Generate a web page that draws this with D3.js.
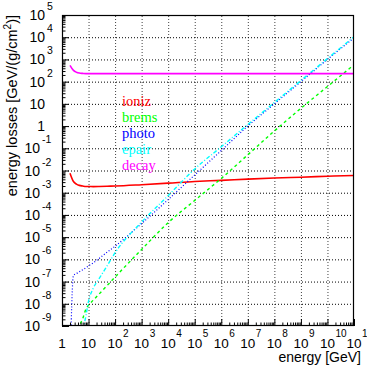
<!DOCTYPE html>
<html>
<head>
<meta charset="utf-8">
<script src="https://cdn.jsdelivr.net/npm/d3@7"></script>
<style>
  html, body { margin: 0; padding: 0; background: #fff; }
  svg { display: block; }
  text { font-family: "Liberation Sans", Arial, sans-serif; fill: #000; }
</style>
</head>
<body>
<svg id="chart" width="367" height="369"></svg>
<script>
// ---- data ----
const energies = [2, 2.7, 3.5, 4.5, 6, 8, 10, 15, 25, 50, 100, 1e3, 1e4, 1e5, 1e6, 1e7, 1e8, 1e9, 1e10, 1e11];
const ioniz = [7.6e-3, 3.2e-3, 2.45e-3, 2.14e-3, 2.0e-3, 1.9e-3, 1.9e-3, 1.88e-3, 1.9e-3, 1.95e-3, 2.0e-3, 2.3e-3, 2.7e-3, 3.2e-3, 3.6e-3, 4.1e-3, 4.6e-3, 5.0e-3, 5.5e-3, 6.0e-3];
const brems = [1e-14, 1e-13, 1e-12, 8e-10, 2.1e-9, 5.8e-9, 8.7e-9, 1.45e-8, 2.75e-8, 6.6e-8, 1.6e-7, 2.8e-6, 4.5e-5, 4.5e-4, 4.4e-3, 0.051, 0.6, 6.3, 60, 575];
const photo = [1e-11, 1.9e-7, 2.3e-7, 2.75e-7, 3.4e-7, 4.2e-7, 5.1e-7, 6.9e-7, 1.1e-6, 2.1e-6, 3.9e-6, 4.1e-5, 4.9e-4, 6.3e-3, 0.079, 1.0, 10, 100, 1000, 9300];
const epair = [1e-14, 1e-13, 1e-12, 1e-11, 4.5e-10, 2.95e-9, 1.3e-8, 5e-8, 1.35e-7, 5.1e-7, 2.0e-6, 4.8e-5, 7.4e-4, 0.0117, 0.117, 1.17, 11.5, 112, 1100, 1.05e4];
const decay = [540, 320, 265, 243, 235, 230, 230, 230, 230, 230, 230, 230, 230, 230, 230, 230, 230, 230, 230, 230];
const seriesNames = ["ioniz", "brems", "photo", "epair", "decay"];
const seriesColors = ["#ff0000", "#00ff00", "#0000ff", "#00ffff", "#ff00ff"];
const xTickExps = [0, 1, 2, 3, 4, 5, 6, 7, 8, 9, 10, 11];
const yTickExps = [-9, -8, -7, -6, -5, -4, -3, -2, -1, 0, 1, 2, 3, 4, 5];
const xTitle = "energy [GeV]";
const yTitle = "energy losses [GeV/(g/cm";

// ---- layout ----
const L = 62, R = 354, T = 15, B = 326;
const svg = d3.select("#chart");
const x = d3.scaleLog().domain([1, 1e11]).range([L, R]);
const y = d3.scaleLog().domain([1e-9, 1e5]).range([B, T]);

const xMajor = xTickExps.map(e => Math.pow(10, e));
const yMajor = yTickExps.map(e => Math.pow(10, e));
const minors = (lo, hi) => {
  const out = [];
  for (let d = lo; d < hi; d++) for (let k = 2; k <= 9; k++) out.push(k * Math.pow(10, d));
  return out;
};
const xMinor = minors(0, 11);
const yMinor = minors(-9, 5);

// grid
svg.append("g").attr("transform", `translate(0,${B})`)
  .call(d3.axisBottom(x).tickValues(xMajor.slice(1, -1)).tickSize(-(B - T)).tickFormat(""))
  .call(g => g.select(".domain").remove())
  .call(g => g.selectAll("line").attr("stroke", "#000").attr("stroke-dasharray", "1,2").attr("stroke-width", 1).attr("opacity", 0.75));
svg.append("g").attr("transform", `translate(${L},0)`)
  .call(d3.axisLeft(y).tickValues(yMajor.slice(1, -1)).tickSize(-(R - L)).tickFormat(""))
  .call(g => g.select(".domain").remove())
  .call(g => g.selectAll("line").attr("stroke", "#000").attr("stroke-dasharray", "1,2").attr("stroke-width", 1));

// curves
svg.append("clipPath").attr("id", "clip").append("rect")
  .attr("x", L).attr("y", T).attr("width", R - L).attr("height", B - T);
const allSeries = [ioniz, brems, photo, epair, decay];
const dashes = [null, "3,3", "1,2", "4,2,1,2", null];
const widths = [1.6, 1.4, 1.2, 1.4, 1.6];
const line = d3.line().x(d => x(d[0])).y(d => y(d[1])).curve(d3.curveMonotoneX);
const gLines = svg.append("g").attr("clip-path", "url(#clip)");
allSeries.forEach((vals, i) => {
  gLines.append("path")
    .datum(energies.map((e, j) => [e, vals[j]]))
    .attr("fill", "none")
    .attr("stroke", seriesColors[i])
    .attr("stroke-width", widths[i])
    .attr("stroke-dasharray", dashes[i])
    .attr("d", line);
});

// ticks (inside)
svg.append("g").attr("transform", `translate(0,${B})`)
  .call(d3.axisTop(x).tickValues(xMajor).tickSize(7).tickFormat(""))
  .call(g => g.select(".domain").remove());
svg.append("g").attr("transform", `translate(0,${B})`)
  .call(d3.axisTop(x).tickValues(xMinor).tickSize(3.5).tickFormat(""))
  .call(g => g.select(".domain").remove());
svg.append("g").attr("transform", `translate(${L},0)`)
  .call(d3.axisRight(y).tickValues(yMajor).tickSize(7).tickFormat(""))
  .call(g => g.select(".domain").remove());
svg.append("g").attr("transform", `translate(${L},0)`)
  .call(d3.axisRight(y).tickValues(yMinor).tickSize(3.5).tickFormat(""))
  .call(g => g.select(".domain").remove());
svg.selectAll(".tick line").filter(function(){ return !this.getAttribute("stroke-dasharray"); })
  .attr("stroke", "#000");

// frame
svg.append("rect").attr("x", L + 0.5).attr("y", T + 0.5).attr("width", R - L - 1).attr("height", B - T - 1)
  .attr("fill", "none").attr("stroke", "#000").attr("stroke-width", 1.2);

// x labels
const gx = svg.append("g");
xTickExps.forEach(e => {
  const cx = x(Math.pow(10, e));
  if (e === 0 || e === 1) {
    gx.append("text").attr("x", cx).attr("y", 348).attr("text-anchor", "middle").attr("font-size", 13.5).text(e === 0 ? "1" : "10");
  } else {
    gx.append("text").attr("x", cx).attr("y", 348).attr("text-anchor", "middle").attr("font-size", 13.5).text("10");
    gx.append("text").attr("x", cx + 8).attr("y", 337).attr("text-anchor", "start").attr("font-size", 10).text(String(e));
  }
});

// y labels
const gy = svg.append("g");
yTickExps.forEach(e => {
  const cy = y(Math.pow(10, e));
  if (e === 0 || e === 1) {
    gy.append("text").attr("x", 45).attr("y", cy + 5).attr("text-anchor", "end").attr("font-size", 14).text(e === 0 ? "1" : "10");
  } else {
    const bx = e > 0 ? 45 : 40;
    gy.append("text").attr("x", bx).attr("y", cy + 5).attr("text-anchor", "end").attr("font-size", 14).text("10");
    gy.append("text").attr("x", bx + 2).attr("y", cy - 5).attr("text-anchor", "start").attr("font-size", 10.5).text(String(e));
  }
});

// axis titles
svg.append("text").attr("x", 361).attr("y", 362).attr("text-anchor", "end").attr("font-size", 14).text(xTitle);
const yt = svg.append("text").attr("transform", "translate(17,15) rotate(-90)").attr("text-anchor", "end").attr("font-size", 14.5);
yt.append("tspan").text(yTitle);
yt.append("tspan").attr("font-size", 10).attr("dy", -6).text("2");
yt.append("tspan").attr("dy", 6).text(")]");

// legend
const legendY = [106, 122, 138, 154, 170];
seriesNames.forEach((n, i) => {
  svg.append("text").attr("x", 122).attr("y", legendY[i])
    .style("font-family", "'Liberation Serif', 'Times New Roman', serif")
    .attr("font-size", 14.5).style("fill", seriesColors[i]).text(n);
});
</script>
</body>
</html>
